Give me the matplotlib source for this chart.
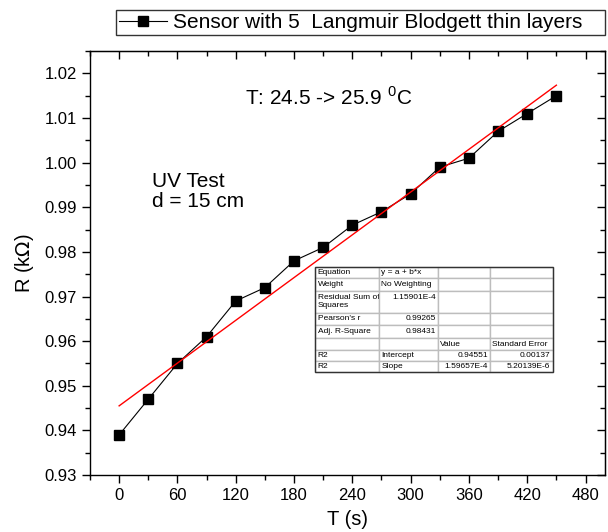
import numpy as np
import matplotlib
matplotlib.use("Agg")
import matplotlib.pyplot as plt
from matplotlib.table import Table
from matplotlib.patches import Rectangle
from matplotlib.ticker import MultipleLocator

plt.rcParams['font.family'] = ['Liberation Sans', 'DejaVu Sans']

# measured data
t = [0, 30, 60, 90, 120, 150, 180, 210, 240, 270, 300, 330, 360, 390, 420, 450]
r = [0.939, 0.947, 0.955, 0.961, 0.969, 0.972, 0.978, 0.981, 0.986, 0.989,
     0.993, 0.999, 1.001, 1.007, 1.011, 1.015]

# linear fit results (as reported)
intercept = 0.94551
slope = 1.59657E-4

table_rows = [
    ["Equation", "y = a + b*x", "", ""],
    ["Weight", "No Weighting", "", ""],
    ["Residual Sum of\nSquares", "1.15901E-4\n ", "", ""],
    ["Pearson's r", "0.99265", "", ""],
    ["Adj. R-Square", "0.98431", "", ""],
    ["", "", "Value", "Standard Error"],
    ["R2", "Intercept", "0.94551", "0.00137"],
    ["R2", "Slope", "1.59657E-4", "5.20139E-6"],
]
table_align = [
    ["left", "left", "left", "left"],
    ["left", "left", "left", "left"],
    ["left", "right", "left", "left"],
    ["left", "right", "left", "left"],
    ["left", "right", "left", "left"],
    ["left", "left", "left", "left"],
    ["left", "left", "right", "right"],
    ["left", "left", "right", "right"],
]
col_w = [64, 59, 52, 63]
row_h = [11, 13, 22, 12, 13, 12, 11, 11]

fig = plt.figure(figsize=(6.08, 5.32), dpi=100)
ax = fig.add_axes([0.148, 0.107, 0.847, 0.797])

ax.plot(t, r, '-', color='black', lw=0.8, marker='s', ms=7,
        mfc='black', mec='black',
        label='Sensor with 5  Langmuir Blodgett thin layers')
xf = np.array([t[0], t[-1]])
ax.plot(xf, intercept + slope * xf, color='red', lw=1.0)

ax.set_xlim(-30, 500)
ax.set_ylim(0.93, 1.025)
ax.xaxis.set_major_locator(MultipleLocator(60))
ax.xaxis.set_minor_locator(MultipleLocator(30))
ax.yaxis.set_major_locator(MultipleLocator(0.01))
ax.yaxis.set_minor_locator(MultipleLocator(0.005))
ax.set_xticks(range(0, 481, 60))
ax.yaxis.set_major_formatter(matplotlib.ticker.FormatStrFormatter('%.2f'))

ax.tick_params(which='both', direction='out', top=False, right=False,
               labelsize=12, width=1)
ax.tick_params(which='major', length=6)
ax.tick_params(which='minor', length=3.5)
for s in ax.spines.values():
    s.set_linewidth(1)

# inward ticks on top and right axes
ax_t = ax.secondary_xaxis('top')
ax_t.xaxis.set_major_locator(MultipleLocator(60))
ax_t.xaxis.set_minor_locator(MultipleLocator(30))
ax_t.tick_params(which='both', direction='in', labeltop=False, width=1)
ax_t.tick_params(which='major', length=6)
ax_t.tick_params(which='minor', length=3.5)
ax_r = ax.secondary_yaxis('right')
ax_r.yaxis.set_major_locator(MultipleLocator(0.01))
ax_r.yaxis.set_minor_locator(MultipleLocator(0.005))
ax_r.tick_params(which='both', direction='in', labelright=False, width=1)
ax_r.tick_params(which='major', length=6)
ax_r.tick_params(which='minor', length=3.5)

ax.set_xlabel('T (s)', fontsize=14.5, labelpad=5)
ax.set_ylabel(r'R (k$\Omega$)', fontsize=14.5, labelpad=6)

ax.text(130, 1.0145, r'T: 24.5 -> 25.9 $^{\mathregular{0}}$C', fontsize=15,
        va='center')
ax.text(34, 0.9935, 'UV Test\nd = 15 cm', fontsize=15, va='center',
        linespacing=1.1)

leg = ax.legend(loc='upper left', bbox_to_anchor=(0.05, 1.033, 0.95, 0.064),
                mode='expand', frameon=True, fancybox=False, fontsize=15,
                handlelength=2.3, borderaxespad=0, handletextpad=0.3,
                borderpad=0.15)
leg.get_frame().set_edgecolor('black')
leg.get_frame().set_linewidth(1)

# fit results table
bx0, by0, bw, bh = 0.437, 0.243, 0.462, 0.248
tab = Table(ax, bbox=[bx0, by0, bw, bh])
for i, row in enumerate(table_rows):
    for j, txt in enumerate(row):
        c = tab.add_cell(i, j, col_w[j], row_h[i], text=txt,
                         loc=table_align[i][j], edgecolor='#bdbdbd')
        c.PAD = 0.04
        c.get_text().set_fontsize(6)
tab.auto_set_font_size(False)
ax.add_table(tab)
ax.add_patch(Rectangle((bx0, by0), bw, bh, transform=ax.transAxes,
                       fill=False, edgecolor='#333333', lw=1, zorder=10))

fig.savefig('out.png', dpi=100)
